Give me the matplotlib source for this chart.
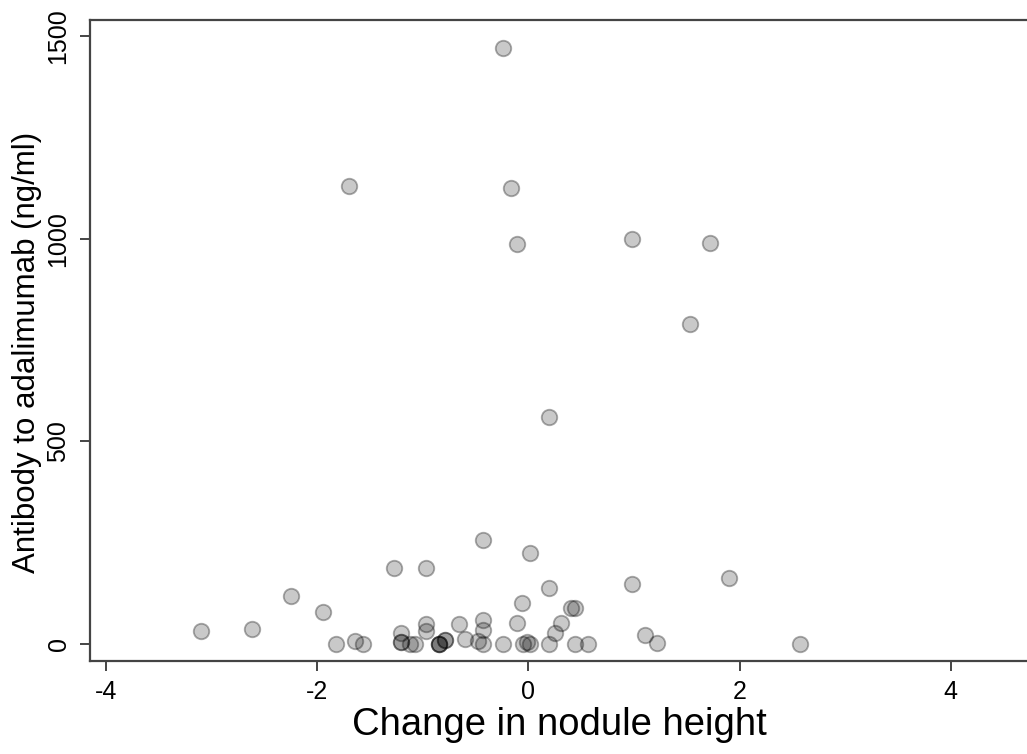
import matplotlib
matplotlib.use("Agg")
import matplotlib.pyplot as plt
import numpy as np

plt.rcParams['font.family'] = ['Liberation Sans', 'DejaVu Sans']
plt.rcParams['axes.unicode_minus'] = False

# change in nodule height vs anti-adalimumab antibody level
nodule_change = [
    -3.10, -2.62, -2.25, -1.95, -1.27, -0.97, -1.82, -1.64, -1.57, -1.21,
    -1.21, -1.21, -1.12, -1.08, -0.97, -0.97, -0.85, -0.85, -0.85, -0.79,
    -0.79, -0.66, -0.60, -0.48, -0.43, -0.43, -0.43, -0.24, -0.11, -0.06,
    -0.05, -0.01, 0.01, 0.19, 0.19, 0.25, 0.31, 0.40, 0.44, 0.44,
    0.56, 0.98, 1.10, 1.22, 1.90, 2.57, -0.24, -1.70, -0.17, -0.11,
    0.98, 1.72, 1.53, 0.19, -0.43, 0.01,
]
antibody = [
    32, 37, 118, 79, 188, 188, 0, 7, 0, 27,
    5, 5, 0, 0, 49, 32, 0, 0, 0, 10,
    10, 49, 12, 7, 59, 35, 0, 0, 52, 101,
    0, 5, 0, 138, 0, 27, 52, 89, 89, 0,
    0, 148, 22, 2, 163, 0, 1471, 1130, 1125, 987,
    999, 989, 790, 560, 257, 225,
]

x_ticks = [-4, -2, 0, 2, 4]
y_ticks = [0, 500, 1000, 1500]

fig = plt.figure(figsize=(10.27, 7.54), dpi=100)
ax = fig.add_axes([0.0876, 0.1233, 0.915, 0.8502])

ax.scatter(nodule_change, antibody, s=125,
           facecolors=(0, 0, 0, 0.21), edgecolors=(0, 0, 0, 0.32),
           linewidths=1.3, zorder=3)

ax.set_xlim(-4.156, 4.75)
ax.set_ylim(-42, 1540)
ax.set_xticks(x_ticks)
ax.set_yticks(y_ticks)
ax.set_yticklabels([str(v) for v in y_ticks], rotation=90, va='center')

spine_col = '#444444'
for side in ['left', 'bottom', 'top']:
    ax.spines[side].set_color(spine_col)
    ax.spines[side].set_linewidth(1.6)
ax.spines['right'].set_visible(False)
ax.tick_params(length=7, width=1.4, color=spine_col, labelsize=18, pad=7)

ax.set_xlabel('Change in nodule height', fontsize=27.5, labelpad=2)
ax.set_ylabel('Antibody to adalimumab (ng/ml)', fontsize=22.5)
ax.yaxis.set_label_coords(-0.051, 0.482)

fig.savefig('out.png', dpi=100)
